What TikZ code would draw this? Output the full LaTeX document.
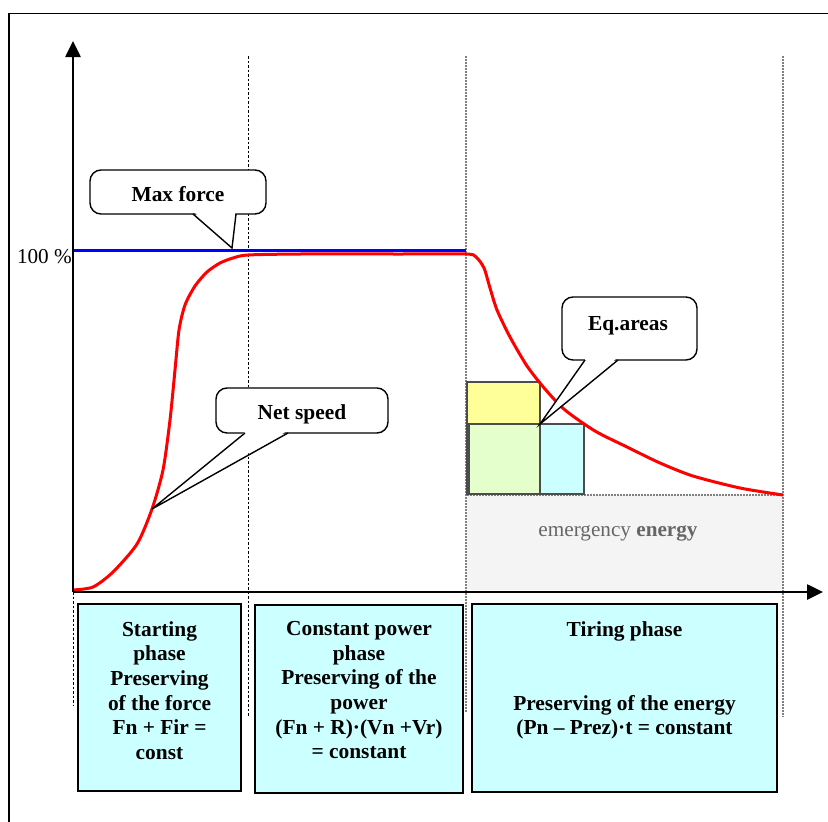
\documentclass[tikz,border=0pt]{standalone}
\usepackage{fontspec}
\setmainfont{Liberation Serif}
\usetikzlibrary{arrows.meta}
\definecolor{boxcyan}{HTML}{CCFFFF}
\definecolor{eqyellow}{HTML}{FFFF99}
\definecolor{eqgreen}{HTML}{E5FFCC}
\definecolor{emgray}{HTML}{F4F4F4}
\definecolor{emtext}{HTML}{666666}
\definecolor{dotgray}{HTML}{808080}
\begin{document}
\begin{tikzpicture}[x=1pt,y=-1pt,
  bigfont/.style={font=\fontsize{21.4}{24.7}\selectfont\bfseries},
  normfont/.style={font=\fontsize{21.2}{24.7}\selectfont},
  cbox/.style={draw, fill=white, rounded corners=11pt, line width=1.4pt, inner sep=0pt},
  ctext/.style={bigfont, anchor=base, inner sep=0pt},
  phasebox/.style={draw, fill=boxcyan, line width=1.6pt, inner sep=0pt},
  phasetext/.style={bigfont, align=center, anchor=north, inner sep=0pt},
  blackdash/.style={line width=0.9pt, dash pattern=on 2.5pt off 2pt},
  graydot/.style={dotgray, line width=1.2pt, dash pattern=on 1.5pt off 1.5pt},
  axis/.style={line width=2.6pt, -{Triangle[length=16pt,width=15pt]}},
  eqrect/.style={draw=black!70, line width=1.1pt}
]
\useasboundingbox (0,0) rectangle (828,822);

% outer frame (clipped by page)
\coordinate (fTL) at (9,13.5);
\coordinate (fTR) at (840,13.5);
\coordinate (fBL) at (9,840);
\draw[line width=1.8pt] (fTR) -- (fTL) -- (fBL);

% emergency energy area
\fill[emgray] (467,495) rectangle (783,590);
\draw[graydot] (467,495) -- (783,495);
\node[normfont, anchor=base, text=emtext, inner sep=0pt] (emerg) at (618,536) {emergency \textbf{energy}};

% vertical phase lines
\draw[blackdash] (248,56) -- (248,717);
\draw[blackdash] (73,592) -- (73,705);
\draw[graydot] (466,56) -- (466,712);
\draw[graydot] (783,56) -- (783,717);

% equal-area rectangles
\fill[eqyellow] (467,382) rectangle (540,424);
\fill[eqgreen] (469,424) rectangle (540,494);
\fill[boxcyan] (540,424) rectangle (584,494);
\draw[eqrect] (467,382) rectangle (540,494);
\draw[eqrect] (469,424) rectangle (584,494);

% max force line
\coordinate (bl) at (73,250);
\coordinate (br) at (466,250);
\draw[blue, line width=3pt] (bl) -- (br);

% net speed curve
\draw[red, line width=3pt, line join=round] plot[smooth, tension=0.45] coordinates {
 (73,590) (93,587) (113,572) (137,544) (152,509) (163,470) (170,420) (175,370)
 (179,330) (185,305) (195,286) (207,272) (220,263) (233,258) (248,255) (300,254)
 (400,254) (466,254) (476,257) (484,268) (490,288) (497,310) (510,337) (527,366)
 (545,389) (565,410) (595,431) (627,447) (660,463) (693,476) (740,488) (783,495)};

% axes
\coordinate (O) at (73,592);
\coordinate (ytip) at (73,41);
\coordinate (xtip) at (823,592);
\draw[axis] (O) -- (ytip);
\draw[axis] (O) -- (xtip);
\node[normfont, anchor=base east, inner sep=0pt] (hundred) at (72,263) {100 \%};

% callout: Max force
\node[cbox, minimum width=176pt, minimum height=44pt] (maxbox) at (178,192) {};
\coordinate (maxtip) at (232,248);
\fill[white] (194,212) -- (235.5,212) -- (maxtip) -- cycle;
\draw[line width=1.4pt, line join=miter] (193,214) -- (maxtip) -- (236,214);
\node[ctext] (maxtxt) at (178,201) {Max force};

% callout: Net speed
\node[cbox, minimum width=172pt, minimum height=45pt] (netbox) at (302,410.5) {};
\coordinate (nettip) at (152,509);
\fill[white] (246,431) -- (287,431) -- (nettip) -- cycle;
\draw[line width=1.4pt] (245,433) -- (nettip) -- (288,433);
\node[ctext] (nettxt) at (302,419) {Net speed};

% callout: Eq.areas
\node[cbox, minimum width=135pt, minimum height=63pt] (eqbox) at (629.5,328.5) {};
\coordinate (eqtip) at (540,424);
\fill[white] (586,358) -- (617,358) -- (eqtip) -- cycle;
\draw[line width=1.4pt] (585,360) -- (eqtip) -- (618,360);
\node[ctext] (eqtxt) at (628,330) {Eq.areas};

% phase boxes
\node[phasebox, minimum width=163pt, minimum height=187pt] (p1) at (159.5,697.5) {};
\node[phasebox, minimum width=208pt, minimum height=188pt] (p2) at (359,699) {};
\node[phasebox, minimum width=305pt, minimum height=188pt] (p3) at (624.5,698) {};
\node[phasetext] (t1) at (159.5,621) {Starting\\phase\\Preserving\\of the force\\Fn + Fir =\\const};
\node[phasetext] (t2) at (359,621) {Constant power\\phase\\Preserving of the\\power\\(Fn + R)·(Vn +Vr)\\= constant};
\node[phasetext] (t3) at (624.5,621) {Tiring phase\\[49.4pt]Preserving of the energy\\(Pn – Prez)·t = constant};
\end{tikzpicture}
\end{document}
